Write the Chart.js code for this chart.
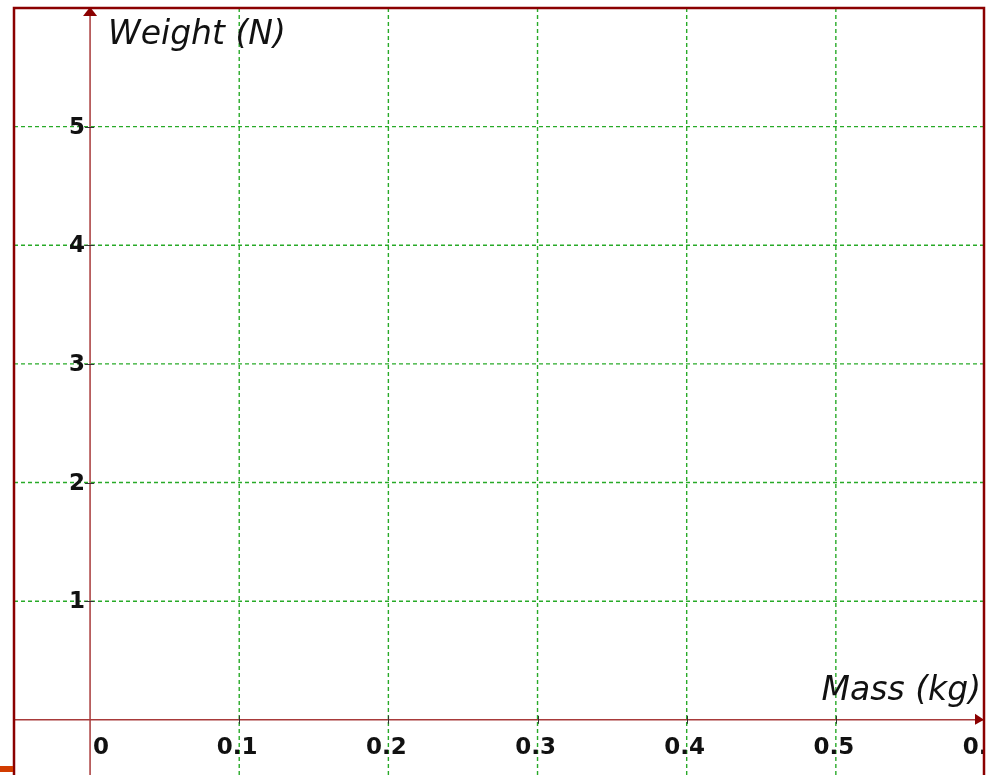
<!DOCTYPE html>
<html>
<head>
<meta charset="utf-8">
<script src="https://cdn.jsdelivr.net/npm/chart.js@4/dist/chart.umd.min.js"></script>
<style>
  body { margin: 0; background: #fff; }
  #wrap { position: relative; width: 990px; height: 775px; overflow: hidden; }
  #mark { position: absolute; left: 0; top: 766px; width: 13px; height: 6px; background: #d23c00; }
</style>
</head>
<body>
<div id="wrap">
  <canvas id="graph" width="990" height="775"></canvas>
  <div id="mark"></div>
</div>
<script>
// tick values and labels
const xTicks = [0, 0.1, 0.2, 0.3, 0.4, 0.5, 0.6];
const xTickLabels = ["0", "0.1", "0.2", "0.3", "0.4", "0.5", "0.6"];
const yTicks = [0, 1, 2, 3, 4, 5, 6];
const yTickLabels = ["", "1", "2", "3", "4", "5", ""];
const xTitle = "Mass (kg)";
const yTitle = "Weight (N)";

const GREEN = "rgb(40, 170, 40)";
const AXIS = "#a83a3a";
const FRAME = "#8b0000";
const LABEL_FONT = "bold 23px 'DejaVu Sans'";
const TITLE_FONT = "oblique 33px 'DejaVu Sans'";

// dashed green grid on the inner ticks
const gridPlugin = {
    id: "gridPlugin",
    beforeDatasetsDraw(chart) {
        const ctx = chart.ctx;
        const a = chart.chartArea;
        const xs = chart.scales.x;
        const ys = chart.scales.y;
        ctx.save();
        ctx.strokeStyle = GREEN;
        ctx.lineWidth = 1.4;
        ctx.setLineDash([4, 3]);
        ctx.beginPath();
        xTicks.slice(1, -1).forEach(v => {
            const px = xs.getPixelForValue(v);
            ctx.moveTo(px, a.top);
            ctx.lineTo(px, a.bottom);
        });
        yTicks.slice(1, -1).forEach(v => {
            const py = ys.getPixelForValue(v);
            ctx.moveTo(a.left, py);
            ctx.lineTo(a.right, py);
        });
        ctx.stroke();
        ctx.restore();
    }
};

// axes, tick marks, labels, arrows and frame
const axesPlugin = {
    id: "axesPlugin",
    afterDraw(chart) {
        const ctx = chart.ctx;
        const a = chart.chartArea;
        const xs = chart.scales.x;
        const ys = chart.scales.y;
        const x0 = xs.getPixelForValue(0);
        const y0 = ys.getPixelForValue(0);

        ctx.save();
        ctx.beginPath();
        ctx.rect(a.left, a.top, a.right - a.left, a.bottom - a.top);
        ctx.clip();

        // axis lines
        ctx.lineWidth = 1.5;
        ctx.strokeStyle = AXIS;
        ctx.beginPath();
        ctx.moveTo(x0, a.bottom);
        ctx.lineTo(x0, a.top);
        ctx.moveTo(a.left, y0);
        ctx.lineTo(a.right, y0);
        ctx.stroke();

        // tick marks
        ctx.strokeStyle = "#333";
        ctx.lineWidth = 1;
        ctx.beginPath();
        xTicks.slice(1, -1).forEach(v => {
            const px = Math.round(xs.getPixelForValue(v)) + 0.5;
            ctx.moveTo(px, y0 - 4);
            ctx.lineTo(px, y0 + 4);
        });
        yTicks.slice(1, -1).forEach(v => {
            const py = Math.round(ys.getPixelForValue(v)) + 0.5;
            ctx.moveTo(x0 - 5, py);
            ctx.lineTo(x0 + 4, py);
        });
        ctx.stroke();

        // tick labels
        ctx.fillStyle = "#111";
        ctx.font = LABEL_FONT;
        ctx.textBaseline = "alphabetic";
        xTicks.forEach((v, i) => {
            const px = xs.getPixelForValue(v);
            if (v === 0) {
                ctx.textAlign = "left";
                ctx.fillText(xTickLabels[i], px + 3, y0 + 34);
            } else {
                ctx.textAlign = "center";
                ctx.fillText(xTickLabels[i], px - 2, y0 + 34);
            }
        });
        ctx.textAlign = "right";
        ctx.textBaseline = "middle";
        yTicks.forEach((v, i) => {
            if (!yTickLabels[i]) return;
            ctx.fillText(yTickLabels[i], x0 - 5, ys.getPixelForValue(v) + 1);
        });

        // axis titles
        ctx.font = TITLE_FONT;
        ctx.textBaseline = "alphabetic";
        ctx.textAlign = "left";
        ctx.fillText(yTitle, x0 + 18, a.top + 36);
        ctx.textAlign = "right";
        ctx.fillText(xTitle, a.right - 4, y0 - 20);

        // arrow heads
        ctx.fillStyle = FRAME;
        ctx.beginPath();
        ctx.moveTo(x0, a.top - 1);
        ctx.lineTo(x0 - 7, a.top + 8);
        ctx.lineTo(x0 + 7, a.top + 8);
        ctx.closePath();
        ctx.fill();
        ctx.beginPath();
        ctx.moveTo(a.right - 1, y0);
        ctx.lineTo(a.right - 10, y0 - 6);
        ctx.lineTo(a.right - 10, y0 + 5);
        ctx.closePath();
        ctx.fill();
        ctx.restore();

        // frame (left, top, right)
        ctx.save();
        ctx.strokeStyle = FRAME;
        ctx.lineWidth = 2.5;
        ctx.beginPath();
        ctx.moveTo(a.left, chart.height + 2);
        ctx.lineTo(a.left, a.top);
        ctx.lineTo(a.right - 1, a.top);
        ctx.lineTo(a.right - 1, chart.height + 2);
        ctx.stroke();
        ctx.restore();
    }
};

new Chart(document.getElementById("graph"), {
    type: "scatter",
    data: { datasets: [] },
    options: {
        responsive: false,
        animation: false,
        layout: { padding: { left: 14, right: 5, top: 8, bottom: 0 } },
        plugins: { legend: { display: false }, tooltip: { enabled: false } },
        scales: {
            x: {
                type: "linear",
                min: -0.051,
                max: 0.6,
                afterFit(scale) { scale.height = 0; },
                ticks: { display: false },
                grid: { display: false },
                border: { display: false }
            },
            y: {
                type: "linear",
                min: -0.465,
                max: 6.0,
                afterFit(scale) { scale.width = 0; },
                ticks: { display: false },
                grid: { display: false },
                border: { display: false }
            }
        }
    },
    plugins: [gridPlugin, axesPlugin]
});
</script>
</body>
</html>
